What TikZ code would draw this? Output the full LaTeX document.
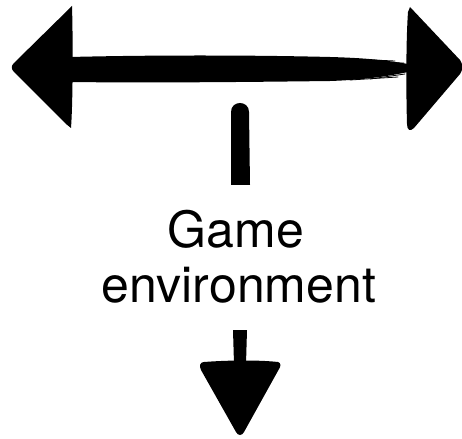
\documentclass[tikz,border=0pt]{standalone}
\usepackage{fontspec}
\setmainfont{TeX Gyre Heros}
\begin{document}
\begin{tikzpicture}[x=1pt,y=-1pt,
  ink/.style={fill=black,draw=none},
  brush/.style={draw=black,line width=0.8pt,line cap=round},
  label/.style={font=\fontsize{50}{55}\selectfont,inner sep=0pt,anchor=base}]
\useasboundingbox (0,0) rectangle (462,438);
% left arrowhead
\fill[ink] (72,6) .. controls (73,40) and (73,100) .. (71,128)
  -- (66,124) -- (14,72) .. controls (11,69) and (11,66) .. (14,63) -- cycle;
% right arrowhead
\fill[ink] (410,7) -- (460,60) .. controls (463,64) and (463,70) .. (460,74)
  -- (414,128) .. controls (410,132) and (407,130) .. (407,124)
  .. controls (406,90) and (406,40) .. (408,12) -- cycle;
% horizontal shaft
\fill[ink] (70,57) .. controls (150,55) and (250,55) .. (330,57)
  .. controls (365,58) and (385,60) .. (408,64)
  -- (408,72) .. controls (385,77) and (360,80) .. (330,81)
  .. controls (250,82) and (150,83) .. (70,82) -- cycle;
\draw[brush] (330,58) -- (395,61);
\draw[brush] (350,80) -- (398,77);
\draw[brush] (370,79) -- (405,74);
\draw[brush,line width=0.5pt] (350,60) -- (404,63);
% vertical bar
\fill[ink] (231,185) -- (231,112) .. controls (231,100) and (249,100) .. (249,112) -- (250,185) -- cycle;
% text
\node[label] (game) at (236,247) {Game};
\node[label] (env) at (239,302) {environment};
% down arrow shaft
\fill[ink] (233,330) -- (247,330) -- (246,364) -- (234,364) -- cycle;
\draw[brush,line width=0.5pt] (235,332) -- (237,366);
\draw[brush,line width=0.5pt] (244,332) -- (243,366);
% down arrowhead
\fill[ink] (204,362) .. controls (230,360) and (260,360) .. (278,362)
  .. controls (281,363) and (281,366) .. (279,369)
  -- (244,432) .. controls (242,436) and (238,436) .. (236,432)
  -- (201,370) .. controls (199,366) and (200,362) .. (204,362) -- cycle;
\end{tikzpicture}
\end{document}
